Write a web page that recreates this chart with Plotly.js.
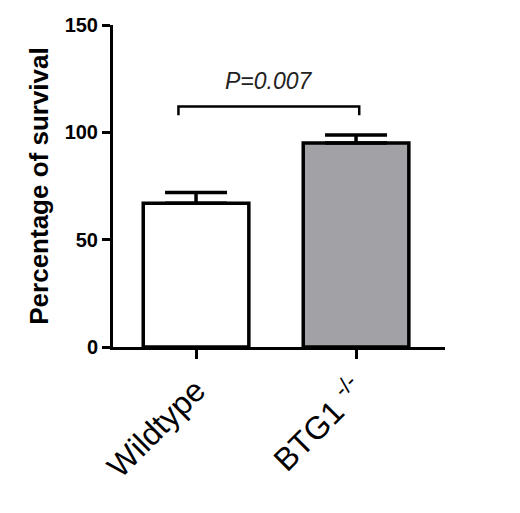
<!DOCTYPE html>
<html>
<head>
<meta charset="utf-8">
<script src="https://cdn.plot.ly/plotly-3.0.1.min.js"></script>
<style>html,body{margin:0;padding:0;background:#fff;}#chart{width:520px;height:513px;}</style>
</head>
<body>
<div id="chart"></div>
<script>
var categories = ["Wildtype", "BTG1 <sup>-/-</sup>"];
var survival = [67, 95];
var sem = [5, 3.7];
var fills = ["#ffffff", "#a2a2a6"];
var pLabel = "P=0.007";
var bracketTop = 112;
var bracketLeg = 108;
var yTicks = [0, 50, 100, 150];

var trace = {
  type: "bar",
  x: [0, 1],
  y: survival,
  width: 0.66,
  marker: {color: fills, line: {color: "#000", width: 3.5}},
  error_y: {type: "data", array: sem, arrayminus: [0, 0], symmetric: false, color: "#000", thickness: 3.5, width: 31},
  hoverinfo: "none"
};

var layout = {
  width: 520, height: 513,
  margin: {l: 113, r: 75, t: 25, b: 166},
  paper_bgcolor: "#fff", plot_bgcolor: "#fff",
  showlegend: false,
  xaxis: {
    range: [-0.519, 1.556],
    tickvals: [0, 1], ticktext: categories,
    tickangle: -45,
    showline: true, linecolor: "#000", linewidth: 3,
    ticks: "outside", ticklen: 9, tickwidth: 3, tickcolor: "#000",
    showgrid: false, zeroline: false,
    tickfont: {family: "Liberation Sans, Arial, sans-serif", size: 32, color: "#000"}
  },
  yaxis: {
    range: [0, 150],
    tickvals: yTicks,
    showline: true, linecolor: "#000", linewidth: 3,
    ticks: "outside", ticklen: 8, tickwidth: 3, tickcolor: "#000",
    showgrid: false, zeroline: false,
    tickfont: {family: "Liberation Sans, Arial, sans-serif", size: 20, color: "#000", weight: "bold"},
    title: {text: "Percentage of survival", standoff: 9, font: {family: "Liberation Sans, Arial, sans-serif", size: 26, color: "#000", weight: "bold"}}
  },
  shapes: [
    {type: "path", xref: "x", yref: "y",
     path: "M -0.11 " + bracketLeg + " L -0.11 " + bracketTop + " L 1.02 " + bracketTop + " L 1.02 " + bracketLeg,
     line: {color: "#000", width: 2.5}}
  ],
  annotations: [
    {x: 0.455, y: 117, xref: "x", yref: "y", text: "<i>" + pLabel + "</i>", showarrow: false, yanchor: "bottom",
     font: {family: "Liberation Sans, Arial, sans-serif", size: 23, color: "#222"}}
  ]
};

Plotly.newPlot("chart", [trace], layout, {displayModeBar: false, staticPlot: true});
</script>
</body>
</html>
